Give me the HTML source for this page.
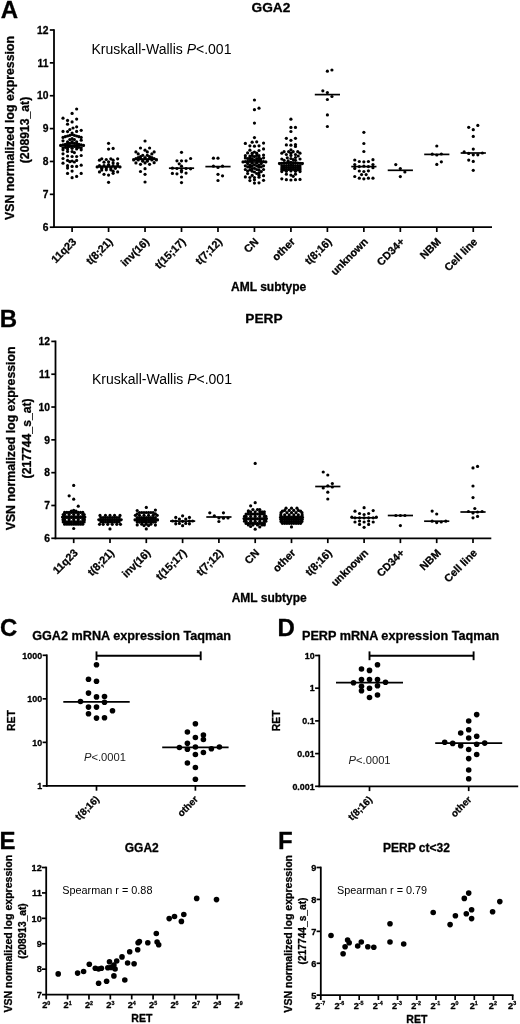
<!DOCTYPE html>
<html lang="en">
<head>
<meta charset="utf-8">
<title>Figure</title>
<style>html,body{margin:0;padding:0;background:#fff;}svg{display:block;}text{font-family:"Liberation Sans", Arial, Helvetica, sans-serif;}text[font-weight=bold]{stroke:#000;stroke-width:0.3px;stroke-linejoin:round;}</style>
</head>
<body>
<svg width="520" height="1024" viewBox="0 0 520 1024" font-family='"Liberation Sans", Arial, Helvetica, sans-serif' fill="#000">
<rect x="0" y="0" width="520" height="1024" fill="#fff"/>
<defs><filter id="soft" x="0" y="0" width="520" height="1024" filterUnits="userSpaceOnUse"><feGaussianBlur stdDeviation="0.4"/></filter></defs>
<g id="fig" filter="url(#soft)">
<g stroke="#000" fill="none" stroke-linecap="butt">
<line x1="54" y1="29.15" x2="54" y2="228.1" stroke-width="1.8"/>
<line x1="53.1" y1="227.2" x2="492" y2="227.2" stroke-width="1.8"/>
<line x1="49.8" y1="30" x2="54" y2="30" stroke-width="1.7"/>
<line x1="49.8" y1="62.87" x2="54" y2="62.87" stroke-width="1.7"/>
<line x1="49.8" y1="95.73" x2="54" y2="95.73" stroke-width="1.7"/>
<line x1="49.8" y1="128.6" x2="54" y2="128.6" stroke-width="1.7"/>
<line x1="49.8" y1="161.47" x2="54" y2="161.47" stroke-width="1.7"/>
<line x1="49.8" y1="194.33" x2="54" y2="194.33" stroke-width="1.7"/>
<line x1="49.8" y1="227.2" x2="54" y2="227.2" stroke-width="1.7"/>
<line x1="72.1" y1="227.2" x2="72.1" y2="232" stroke-width="1.7"/>
<line x1="108.57" y1="227.2" x2="108.57" y2="232" stroke-width="1.7"/>
<line x1="145.04" y1="227.2" x2="145.04" y2="232" stroke-width="1.7"/>
<line x1="181.51" y1="227.2" x2="181.51" y2="232" stroke-width="1.7"/>
<line x1="217.98" y1="227.2" x2="217.98" y2="232" stroke-width="1.7"/>
<line x1="254.45" y1="227.2" x2="254.45" y2="232" stroke-width="1.7"/>
<line x1="290.92" y1="227.2" x2="290.92" y2="232" stroke-width="1.7"/>
<line x1="327.39" y1="227.2" x2="327.39" y2="232" stroke-width="1.7"/>
<line x1="363.86" y1="227.2" x2="363.86" y2="232" stroke-width="1.7"/>
<line x1="400.33" y1="227.2" x2="400.33" y2="232" stroke-width="1.7"/>
<line x1="436.8" y1="227.2" x2="436.8" y2="232" stroke-width="1.7"/>
<line x1="473.27" y1="227.2" x2="473.27" y2="232" stroke-width="1.7"/>
<line x1="59.5" y1="145.4" x2="84.7" y2="145.4" stroke-width="1.7"/>
<line x1="95.97" y1="166.9" x2="121.17" y2="166.9" stroke-width="1.7"/>
<line x1="132.44" y1="159.2" x2="157.64" y2="159.2" stroke-width="1.7"/>
<line x1="168.91" y1="168.2" x2="194.11" y2="168.2" stroke-width="1.7"/>
<line x1="205.38" y1="166.6" x2="230.58" y2="166.6" stroke-width="1.7"/>
<line x1="241.85" y1="162" x2="267.05" y2="162" stroke-width="1.7"/>
<line x1="278.32" y1="163" x2="303.52" y2="163" stroke-width="1.7"/>
<line x1="314.79" y1="94.6" x2="339.99" y2="94.6" stroke-width="1.7"/>
<line x1="351.26" y1="166.6" x2="376.46" y2="166.6" stroke-width="1.7"/>
<line x1="387.73" y1="170.3" x2="412.93" y2="170.3" stroke-width="1.7"/>
<line x1="424.2" y1="154.4" x2="449.4" y2="154.4" stroke-width="1.7"/>
<line x1="460.67" y1="153" x2="485.87" y2="153" stroke-width="1.7"/>
</g>
<text x="48.5" y="33.7" font-size="10.3" font-weight="bold" text-anchor="end">12</text>
<text x="48.5" y="66.57" font-size="10.3" font-weight="bold" text-anchor="end">11</text>
<text x="48.5" y="99.43" font-size="10.3" font-weight="bold" text-anchor="end">10</text>
<text x="48.5" y="132.3" font-size="10.3" font-weight="bold" text-anchor="end">9</text>
<text x="48.5" y="165.17" font-size="10.3" font-weight="bold" text-anchor="end">8</text>
<text x="48.5" y="198.03" font-size="10.3" font-weight="bold" text-anchor="end">7</text>
<text x="48.5" y="230.9" font-size="10.3" font-weight="bold" text-anchor="end">6</text>
<text x="76.9" y="242.4" font-size="10.8" font-weight="bold" text-anchor="end" transform="rotate(-45 76.9 242.4)">11q23</text>
<text x="113.37" y="242.4" font-size="10.8" font-weight="bold" text-anchor="end" transform="rotate(-45 113.37 242.4)">t(8;21)</text>
<text x="149.84" y="242.4" font-size="10.8" font-weight="bold" text-anchor="end" transform="rotate(-45 149.84 242.4)">inv(16)</text>
<text x="186.31" y="242.4" font-size="10.8" font-weight="bold" text-anchor="end" transform="rotate(-45 186.31 242.4)">t(15;17)</text>
<text x="222.78" y="242.4" font-size="10.8" font-weight="bold" text-anchor="end" transform="rotate(-45 222.78 242.4)">t(7;12)</text>
<text x="259.25" y="242.4" font-size="10.8" font-weight="bold" text-anchor="end" transform="rotate(-45 259.25 242.4)">CN</text>
<text x="295.72" y="242.4" font-size="10.8" font-weight="bold" text-anchor="end" transform="rotate(-45 295.72 242.4)">other</text>
<text x="332.19" y="242.4" font-size="10.8" font-weight="bold" text-anchor="end" transform="rotate(-45 332.19 242.4)">t(8;16)</text>
<text x="368.66" y="242.4" font-size="10.8" font-weight="bold" text-anchor="end" transform="rotate(-45 368.66 242.4)">unknown</text>
<text x="405.13" y="242.4" font-size="10.8" font-weight="bold" text-anchor="end" transform="rotate(-45 405.13 242.4)">CD34+</text>
<text x="441.6" y="242.4" font-size="10.8" font-weight="bold" text-anchor="end" transform="rotate(-45 441.6 242.4)">NBM</text>
<text x="478.07" y="242.4" font-size="10.8" font-weight="bold" text-anchor="end" transform="rotate(-45 478.07 242.4)">Cell line</text>
<g><circle cx="76.65" cy="109" r="1.6"/><circle cx="72.1" cy="113.4" r="1.6"/><circle cx="63" cy="118.2" r="1.6"/><circle cx="76.65" cy="119.1" r="1.6"/><circle cx="67.55" cy="120.4" r="1.6"/><circle cx="72.1" cy="121.9" r="1.6"/><circle cx="67.55" cy="124.2" r="1.6"/><circle cx="76.65" cy="126.8" r="1.6"/><circle cx="73.01" cy="128" r="1.6"/><circle cx="69.82" cy="129.5" r="1.6"/><circle cx="81.2" cy="130.3" r="1.6"/><circle cx="63" cy="131.4" r="1.6"/><circle cx="67.55" cy="131.6" r="1.6"/><circle cx="76.65" cy="131.4" r="1.6"/><circle cx="72.1" cy="133.1" r="1.6"/><circle cx="63" cy="137.4" r="1.6"/><circle cx="65.27" cy="136.7" r="1.6"/><circle cx="67.55" cy="136" r="1.6"/><circle cx="69.82" cy="135.3" r="1.6"/><circle cx="72.1" cy="134.6" r="1.6"/><circle cx="74.38" cy="135.3" r="1.6"/><circle cx="76.65" cy="136" r="1.6"/><circle cx="78.92" cy="136.7" r="1.6"/><circle cx="81.2" cy="137.4" r="1.6"/><circle cx="69.82" cy="139.6" r="1.6"/><circle cx="72.1" cy="138.6" r="1.6"/><circle cx="74.38" cy="139.6" r="1.6"/><circle cx="63" cy="140.8" r="1.6"/><circle cx="81.2" cy="140.2" r="1.6"/><circle cx="67.55" cy="141.9" r="1.6"/><circle cx="72.1" cy="141.6" r="1.6"/><circle cx="76.65" cy="141.9" r="1.6"/><circle cx="60.72" cy="145.38" r="1.6"/><circle cx="63" cy="144.9" r="1.6"/><circle cx="65.27" cy="144.43" r="1.6"/><circle cx="67.55" cy="143.95" r="1.6"/><circle cx="69.82" cy="143.47" r="1.6"/><circle cx="72.1" cy="143" r="1.6"/><circle cx="74.38" cy="143.47" r="1.6"/><circle cx="76.65" cy="143.95" r="1.6"/><circle cx="78.92" cy="144.43" r="1.6"/><circle cx="81.2" cy="144.9" r="1.6"/><circle cx="83.47" cy="145.38" r="1.6"/><circle cx="63" cy="147.8" r="1.6"/><circle cx="65.27" cy="147.35" r="1.6"/><circle cx="67.55" cy="146.9" r="1.6"/><circle cx="69.82" cy="146.45" r="1.6"/><circle cx="72.1" cy="146" r="1.6"/><circle cx="74.38" cy="146.45" r="1.6"/><circle cx="76.65" cy="146.9" r="1.6"/><circle cx="78.92" cy="147.35" r="1.6"/><circle cx="81.2" cy="147.8" r="1.6"/><circle cx="67.55" cy="148.9" r="1.6"/><circle cx="72.1" cy="148.3" r="1.6"/><circle cx="76.65" cy="148.9" r="1.6"/><circle cx="63" cy="149.8" r="1.6"/><circle cx="81.2" cy="149.8" r="1.6"/><circle cx="67.55" cy="151.4" r="1.6"/><circle cx="72.1" cy="151.6" r="1.6"/><circle cx="74.38" cy="152.6" r="1.6"/><circle cx="63" cy="153.8" r="1.6"/><circle cx="67.55" cy="156" r="1.6"/><circle cx="72.1" cy="156.5" r="1.6"/><circle cx="76.65" cy="156.5" r="1.6"/><circle cx="81.2" cy="155.5" r="1.6"/><circle cx="63" cy="158.5" r="1.6"/><circle cx="67.55" cy="160.4" r="1.6"/><circle cx="76.65" cy="160.4" r="1.6"/><circle cx="69.82" cy="161.7" r="1.6"/><circle cx="74.38" cy="162" r="1.6"/><circle cx="72.1" cy="161" r="1.6"/><circle cx="63" cy="163.2" r="1.6"/><circle cx="67.55" cy="165.7" r="1.6"/><circle cx="72.1" cy="166.4" r="1.6"/><circle cx="76.65" cy="166.4" r="1.6"/><circle cx="81.2" cy="165.2" r="1.6"/><circle cx="67.55" cy="168.1" r="1.6"/><circle cx="72.1" cy="171.1" r="1.6"/><circle cx="67.55" cy="173.4" r="1.6"/><circle cx="81.2" cy="173.4" r="1.6"/><circle cx="76.65" cy="176.4" r="1.6"/><circle cx="72.1" cy="177.7" r="1.6"/><circle cx="108.57" cy="143.3" r="1.6"/><circle cx="108.57" cy="149.1" r="1.6"/><circle cx="113.12" cy="148.4" r="1.6"/><circle cx="99.47" cy="160.2" r="1.6"/><circle cx="101.74" cy="158.8" r="1.6"/><circle cx="106.29" cy="159.5" r="1.6"/><circle cx="110.84" cy="158.8" r="1.6"/><circle cx="113.12" cy="160.2" r="1.6"/><circle cx="117.67" cy="158.8" r="1.6"/><circle cx="104.02" cy="162.2" r="1.6"/><circle cx="108.57" cy="161.8" r="1.6"/><circle cx="113.12" cy="162.9" r="1.6"/><circle cx="117.67" cy="163.6" r="1.6"/><circle cx="97.19" cy="166.9" r="1.6"/><circle cx="99.47" cy="165.7" r="1.6"/><circle cx="101.74" cy="166.9" r="1.6"/><circle cx="104.02" cy="165.7" r="1.6"/><circle cx="106.29" cy="166.9" r="1.6"/><circle cx="108.57" cy="165.7" r="1.6"/><circle cx="110.84" cy="166.9" r="1.6"/><circle cx="113.12" cy="165.7" r="1.6"/><circle cx="115.39" cy="166.9" r="1.6"/><circle cx="117.67" cy="165.7" r="1.6"/><circle cx="119.94" cy="166.9" r="1.6"/><circle cx="101.74" cy="168.3" r="1.6"/><circle cx="106.29" cy="168" r="1.6"/><circle cx="110.84" cy="168" r="1.6"/><circle cx="115.39" cy="168.3" r="1.6"/><circle cx="108.57" cy="164.6" r="1.6"/><circle cx="99.47" cy="171.9" r="1.6"/><circle cx="101.74" cy="170.1" r="1.6"/><circle cx="106.29" cy="169.8" r="1.6"/><circle cx="110.84" cy="169.8" r="1.6"/><circle cx="113.12" cy="171.2" r="1.6"/><circle cx="117.67" cy="171.9" r="1.6"/><circle cx="104.02" cy="174.3" r="1.6"/><circle cx="108.57" cy="175.1" r="1.6"/><circle cx="113.12" cy="173.3" r="1.6"/><circle cx="108.57" cy="182.3" r="1.6"/><circle cx="145.04" cy="141" r="1.6"/><circle cx="140.49" cy="148" r="1.6"/><circle cx="149.59" cy="148" r="1.6"/><circle cx="145.04" cy="150.2" r="1.6"/><circle cx="135.94" cy="151.9" r="1.6"/><circle cx="154.14" cy="151.9" r="1.6"/><circle cx="138.22" cy="153.9" r="1.6"/><circle cx="147.31" cy="151.9" r="1.6"/><circle cx="151.86" cy="153.9" r="1.6"/><circle cx="142.76" cy="155.3" r="1.6"/><circle cx="147.31" cy="155.3" r="1.6"/><circle cx="140.49" cy="156.7" r="1.6"/><circle cx="149.59" cy="156.7" r="1.6"/><circle cx="133.66" cy="159.9" r="1.6"/><circle cx="135.94" cy="158.7" r="1.6"/><circle cx="138.22" cy="159.9" r="1.6"/><circle cx="140.49" cy="158.7" r="1.6"/><circle cx="142.76" cy="159.9" r="1.6"/><circle cx="145.04" cy="158.7" r="1.6"/><circle cx="147.31" cy="159.9" r="1.6"/><circle cx="149.59" cy="158.7" r="1.6"/><circle cx="151.86" cy="159.9" r="1.6"/><circle cx="154.14" cy="158.7" r="1.6"/><circle cx="156.41" cy="159.9" r="1.6"/><circle cx="138.22" cy="157.6" r="1.6"/><circle cx="151.86" cy="157.6" r="1.6"/><circle cx="142.76" cy="161.2" r="1.6"/><circle cx="147.31" cy="161.2" r="1.6"/><circle cx="145.04" cy="157.6" r="1.6"/><circle cx="135.94" cy="162.9" r="1.6"/><circle cx="140.49" cy="164.3" r="1.6"/><circle cx="145.04" cy="162.9" r="1.6"/><circle cx="149.59" cy="164.3" r="1.6"/><circle cx="154.14" cy="162.7" r="1.6"/><circle cx="145.04" cy="168.7" r="1.6"/><circle cx="140.49" cy="171.5" r="1.6"/><circle cx="145.04" cy="174.3" r="1.6"/><circle cx="145.04" cy="182" r="1.6"/><circle cx="181.51" cy="152.3" r="1.6"/><circle cx="190.61" cy="158.5" r="1.6"/><circle cx="176.96" cy="160.8" r="1.6"/><circle cx="181.51" cy="160.8" r="1.6"/><circle cx="186.06" cy="160.8" r="1.6"/><circle cx="179.23" cy="163.8" r="1.6"/><circle cx="181.51" cy="166.2" r="1.6"/><circle cx="172.41" cy="168.2" r="1.6"/><circle cx="176.96" cy="168.5" r="1.6"/><circle cx="186.06" cy="168.5" r="1.6"/><circle cx="190.61" cy="168.8" r="1.6"/><circle cx="181.51" cy="170.3" r="1.6"/><circle cx="172.41" cy="173.4" r="1.6"/><circle cx="176.96" cy="173.8" r="1.6"/><circle cx="181.51" cy="171.8" r="1.6"/><circle cx="186.06" cy="173.1" r="1.6"/><circle cx="181.51" cy="177" r="1.6"/><circle cx="181.51" cy="182.6" r="1.6"/><circle cx="213.43" cy="158.2" r="1.6"/><circle cx="217.98" cy="158.2" r="1.6"/><circle cx="213.43" cy="166.2" r="1.6"/><circle cx="217.98" cy="167.4" r="1.6"/><circle cx="222.53" cy="166.2" r="1.6"/><circle cx="217.98" cy="174.3" r="1.6"/><circle cx="222.53" cy="175.8" r="1.6"/><circle cx="217.98" cy="180.5" r="1.6"/><circle cx="254.45" cy="100" r="1.6"/><circle cx="254.45" cy="109.7" r="1.6"/><circle cx="259" cy="108.2" r="1.6"/><circle cx="254.45" cy="123.1" r="1.6"/><circle cx="254.45" cy="137.6" r="1.6"/><circle cx="245.35" cy="143.4" r="1.6"/><circle cx="252.17" cy="142.2" r="1.6"/><circle cx="256.72" cy="141.8" r="1.6"/><circle cx="263.55" cy="143.1" r="1.6"/><circle cx="249.9" cy="145.8" r="1.6"/><circle cx="254.45" cy="146.2" r="1.6"/><circle cx="259" cy="145.8" r="1.6"/><circle cx="249.9" cy="150.2" r="1.6"/><circle cx="259" cy="150.5" r="1.6"/><circle cx="263.55" cy="148.9" r="1.6"/><circle cx="247.62" cy="152.9" r="1.6"/><circle cx="254.45" cy="152" r="1.6"/><circle cx="252.17" cy="153.2" r="1.6"/><circle cx="256.72" cy="153.2" r="1.6"/><circle cx="249.9" cy="156" r="1.6"/><circle cx="259" cy="155.7" r="1.6"/><circle cx="245.35" cy="155.7" r="1.6"/><circle cx="263.55" cy="155.1" r="1.6"/><circle cx="254.45" cy="156.6" r="1.6"/><circle cx="252.17" cy="158.5" r="1.6"/><circle cx="256.72" cy="158.5" r="1.6"/><circle cx="247.62" cy="158.5" r="1.6"/><circle cx="260.82" cy="159.1" r="1.6"/><circle cx="243.07" cy="161.95" r="1.6"/><circle cx="245.35" cy="161.6" r="1.6"/><circle cx="247.62" cy="161.25" r="1.6"/><circle cx="249.9" cy="160.9" r="1.6"/><circle cx="252.17" cy="160.55" r="1.6"/><circle cx="254.45" cy="160.2" r="1.6"/><circle cx="256.72" cy="160.55" r="1.6"/><circle cx="259" cy="160.9" r="1.6"/><circle cx="261.27" cy="161.25" r="1.6"/><circle cx="263.55" cy="161.6" r="1.6"/><circle cx="265.82" cy="161.95" r="1.6"/><circle cx="249.9" cy="159.3" r="1.6"/><circle cx="259" cy="159.5" r="1.6"/><circle cx="247.62" cy="163.6" r="1.6"/><circle cx="252.17" cy="163.2" r="1.6"/><circle cx="256.72" cy="163.2" r="1.6"/><circle cx="261.27" cy="163.6" r="1.6"/><circle cx="254.45" cy="164.8" r="1.6"/><circle cx="252.17" cy="166" r="1.6"/><circle cx="256.72" cy="166" r="1.6"/><circle cx="249.9" cy="167.2" r="1.6"/><circle cx="259" cy="167.2" r="1.6"/><circle cx="245.35" cy="165.8" r="1.6"/><circle cx="263.55" cy="165.8" r="1.6"/><circle cx="245.35" cy="169.5" r="1.6"/><circle cx="249.9" cy="169.8" r="1.6"/><circle cx="263.55" cy="169.5" r="1.6"/><circle cx="254.45" cy="168.3" r="1.6"/><circle cx="256.72" cy="169.5" r="1.6"/><circle cx="259" cy="170.2" r="1.6"/><circle cx="254.45" cy="172" r="1.6"/><circle cx="256.72" cy="173.5" r="1.6"/><circle cx="247.62" cy="173.5" r="1.6"/><circle cx="245.35" cy="176.9" r="1.6"/><circle cx="263.55" cy="175.7" r="1.6"/><circle cx="252.17" cy="175.4" r="1.6"/><circle cx="249.9" cy="177.5" r="1.6"/><circle cx="254.45" cy="177.5" r="1.6"/><circle cx="249.9" cy="180.6" r="1.6"/><circle cx="259" cy="177.2" r="1.6"/><circle cx="263.55" cy="180.3" r="1.6"/><circle cx="254.45" cy="183.1" r="1.6"/><circle cx="259" cy="182.8" r="1.6"/><circle cx="252.17" cy="155.4" r="1.6"/><circle cx="256.72" cy="155.4" r="1.6"/><circle cx="249.9" cy="157.6" r="1.6"/><circle cx="259" cy="157.6" r="1.6"/><circle cx="245.35" cy="158" r="1.6"/><circle cx="263.55" cy="157.8" r="1.6"/><circle cx="249.9" cy="165.2" r="1.6"/><circle cx="259" cy="165.2" r="1.6"/><circle cx="247.62" cy="166.8" r="1.6"/><circle cx="261.27" cy="166.8" r="1.6"/><circle cx="252.17" cy="168.6" r="1.6"/><circle cx="247.62" cy="171" r="1.6"/><circle cx="261.27" cy="171.6" r="1.6"/><circle cx="259" cy="173" r="1.6"/><circle cx="252.17" cy="171.2" r="1.6"/><circle cx="259" cy="175.2" r="1.6"/><circle cx="254.45" cy="179.8" r="1.6"/><circle cx="290.92" cy="119.2" r="1.6"/><circle cx="290.92" cy="127.4" r="1.6"/><circle cx="295.47" cy="127.4" r="1.6"/><circle cx="290.92" cy="131.5" r="1.6"/><circle cx="286.37" cy="138.3" r="1.6"/><circle cx="295.47" cy="138.3" r="1.6"/><circle cx="290.92" cy="140.3" r="1.6"/><circle cx="286.37" cy="144.9" r="1.6"/><circle cx="290.92" cy="145.2" r="1.6"/><circle cx="295.47" cy="144.6" r="1.6"/><circle cx="295.47" cy="146.4" r="1.6"/><circle cx="290.92" cy="149.8" r="1.6"/><circle cx="288.64" cy="151.7" r="1.6"/><circle cx="293.19" cy="151.7" r="1.6"/><circle cx="284.09" cy="151.7" r="1.6"/><circle cx="281.82" cy="153.2" r="1.6"/><circle cx="297.74" cy="151.7" r="1.6"/><circle cx="300.02" cy="153.2" r="1.6"/><circle cx="286.37" cy="154.5" r="1.6"/><circle cx="295.47" cy="154.5" r="1.6"/><circle cx="290.92" cy="153.2" r="1.6"/><circle cx="290.92" cy="155.4" r="1.6"/><circle cx="287.28" cy="157.8" r="1.6"/><circle cx="284.09" cy="160.3" r="1.6"/><circle cx="281.82" cy="159" r="1.6"/><circle cx="295.47" cy="157.5" r="1.6"/><circle cx="298.2" cy="156" r="1.6"/><circle cx="300.02" cy="159" r="1.6"/><circle cx="290.92" cy="158.5" r="1.6"/><circle cx="288.19" cy="160.9" r="1.6"/><circle cx="295.47" cy="160.3" r="1.6"/><circle cx="293.19" cy="159.6" r="1.6"/><circle cx="279.54" cy="163.55" r="1.6"/><circle cx="281.82" cy="163.3" r="1.6"/><circle cx="284.09" cy="163.05" r="1.6"/><circle cx="286.37" cy="162.8" r="1.6"/><circle cx="288.64" cy="162.55" r="1.6"/><circle cx="290.92" cy="162.3" r="1.6"/><circle cx="293.19" cy="162.55" r="1.6"/><circle cx="295.47" cy="162.8" r="1.6"/><circle cx="297.74" cy="163.05" r="1.6"/><circle cx="300.02" cy="163.3" r="1.6"/><circle cx="302.29" cy="163.55" r="1.6"/><circle cx="281.82" cy="165.8" r="1.6"/><circle cx="284.09" cy="165.65" r="1.6"/><circle cx="286.37" cy="165.5" r="1.6"/><circle cx="288.64" cy="165.35" r="1.6"/><circle cx="290.92" cy="165.2" r="1.6"/><circle cx="293.19" cy="165.35" r="1.6"/><circle cx="295.47" cy="165.5" r="1.6"/><circle cx="297.74" cy="165.65" r="1.6"/><circle cx="300.02" cy="165.8" r="1.6"/><circle cx="281.82" cy="167.9" r="1.6"/><circle cx="284.09" cy="167.75" r="1.6"/><circle cx="286.37" cy="167.6" r="1.6"/><circle cx="288.64" cy="167.45" r="1.6"/><circle cx="290.92" cy="167.3" r="1.6"/><circle cx="293.19" cy="167.45" r="1.6"/><circle cx="295.47" cy="167.6" r="1.6"/><circle cx="297.74" cy="167.75" r="1.6"/><circle cx="300.02" cy="167.9" r="1.6"/><circle cx="281.82" cy="169.8" r="1.6"/><circle cx="284.09" cy="169.68" r="1.6"/><circle cx="286.37" cy="169.55" r="1.6"/><circle cx="288.64" cy="169.43" r="1.6"/><circle cx="290.92" cy="169.3" r="1.6"/><circle cx="293.19" cy="169.43" r="1.6"/><circle cx="295.47" cy="169.55" r="1.6"/><circle cx="297.74" cy="169.68" r="1.6"/><circle cx="300.02" cy="169.8" r="1.6"/><circle cx="281.82" cy="171.6" r="1.6"/><circle cx="286.37" cy="171.3" r="1.6"/><circle cx="290.92" cy="171" r="1.6"/><circle cx="295.47" cy="171.3" r="1.6"/><circle cx="300.02" cy="171.6" r="1.6"/><circle cx="286.37" cy="174.2" r="1.6"/><circle cx="290.92" cy="175.1" r="1.6"/><circle cx="293.19" cy="176.3" r="1.6"/><circle cx="295.47" cy="174.2" r="1.6"/><circle cx="281.82" cy="178.8" r="1.6"/><circle cx="286.37" cy="179.7" r="1.6"/><circle cx="290.92" cy="180" r="1.6"/><circle cx="295.47" cy="179.7" r="1.6"/><circle cx="300.02" cy="179.4" r="1.6"/><circle cx="327.39" cy="71.2" r="1.6"/><circle cx="331.94" cy="70" r="1.6"/><circle cx="322.84" cy="90.8" r="1.6"/><circle cx="327.39" cy="92.6" r="1.6"/><circle cx="331.94" cy="96.5" r="1.6"/><circle cx="327.39" cy="99.5" r="1.6"/><circle cx="327.39" cy="114.9" r="1.6"/><circle cx="327.39" cy="126.5" r="1.6"/><circle cx="363.86" cy="132.3" r="1.6"/><circle cx="363.86" cy="143.5" r="1.6"/><circle cx="363.86" cy="151.5" r="1.6"/><circle cx="354.76" cy="160" r="1.6"/><circle cx="359.31" cy="161.5" r="1.6"/><circle cx="363.86" cy="161.8" r="1.6"/><circle cx="368.41" cy="161.5" r="1.6"/><circle cx="372.96" cy="159.7" r="1.6"/><circle cx="354.76" cy="164.6" r="1.6"/><circle cx="372.96" cy="164.6" r="1.6"/><circle cx="354.76" cy="168.4" r="1.6"/><circle cx="359.31" cy="166.6" r="1.6"/><circle cx="363.86" cy="166.2" r="1.6"/><circle cx="368.41" cy="166.6" r="1.6"/><circle cx="372.96" cy="167.7" r="1.6"/><circle cx="359.31" cy="171" r="1.6"/><circle cx="363.86" cy="171.5" r="1.6"/><circle cx="368.41" cy="170.8" r="1.6"/><circle cx="361.59" cy="174.6" r="1.6"/><circle cx="366.13" cy="174.6" r="1.6"/><circle cx="354.76" cy="176.5" r="1.6"/><circle cx="359.31" cy="178.2" r="1.6"/><circle cx="363.86" cy="178.8" r="1.6"/><circle cx="368.41" cy="178.2" r="1.6"/><circle cx="372.96" cy="178.2" r="1.6"/><circle cx="395.78" cy="164.6" r="1.6"/><circle cx="400.33" cy="168.6" r="1.6"/><circle cx="404.88" cy="172" r="1.6"/><circle cx="400.33" cy="176.6" r="1.6"/><circle cx="436.8" cy="146" r="1.6"/><circle cx="436.8" cy="155" r="1.6"/><circle cx="441.35" cy="154" r="1.6"/><circle cx="432.25" cy="154.2" r="1.6"/><circle cx="436.8" cy="164.4" r="1.6"/><circle cx="441.35" cy="161.8" r="1.6"/><circle cx="468.72" cy="127.3" r="1.6"/><circle cx="477.82" cy="125.4" r="1.6"/><circle cx="473.27" cy="129.7" r="1.6"/><circle cx="473.27" cy="136.4" r="1.6"/><circle cx="473.27" cy="149.1" r="1.6"/><circle cx="464.17" cy="151.9" r="1.6"/><circle cx="468.72" cy="153.4" r="1.6"/><circle cx="473.27" cy="154.8" r="1.6"/><circle cx="477.82" cy="154.8" r="1.6"/><circle cx="482.37" cy="153" r="1.6"/><circle cx="468.72" cy="160.1" r="1.6"/><circle cx="473.27" cy="161.4" r="1.6"/><circle cx="473.27" cy="170.3" r="1.6"/></g>
<text x="270.9" y="12" font-size="13.7" font-weight="bold" text-anchor="middle">GGA2</text>
<text x="0.7" y="18.1" font-size="24" font-weight="bold">A</text>
<text x="14.3" y="128" font-size="12.3" font-weight="bold" text-anchor="middle" transform="rotate(-90 14.3 128)">VSN normalized log expression</text>
<text x="29.3" y="130" font-size="12.2" font-weight="bold" text-anchor="middle" transform="rotate(-90 29.3 130)">(208913_at)</text>
<text x="91.5" y="54.1" font-size="14">Kruskall-Wallis <tspan font-style="italic">P</tspan>&lt;.001</text>
<text x="268.6" y="291.2" font-size="12" font-weight="bold" text-anchor="middle">AML subtype</text>
<g stroke="#000" fill="none" stroke-linecap="butt">
<line x1="55.5" y1="340.55" x2="55.5" y2="539.2" stroke-width="1.8"/>
<line x1="54.6" y1="538.3" x2="491.3" y2="538.3" stroke-width="1.8"/>
<line x1="51.3" y1="341.4" x2="55.5" y2="341.4" stroke-width="1.7"/>
<line x1="51.3" y1="374.22" x2="55.5" y2="374.22" stroke-width="1.7"/>
<line x1="51.3" y1="407.03" x2="55.5" y2="407.03" stroke-width="1.7"/>
<line x1="51.3" y1="439.85" x2="55.5" y2="439.85" stroke-width="1.7"/>
<line x1="51.3" y1="472.67" x2="55.5" y2="472.67" stroke-width="1.7"/>
<line x1="51.3" y1="505.48" x2="55.5" y2="505.48" stroke-width="1.7"/>
<line x1="51.3" y1="538.3" x2="55.5" y2="538.3" stroke-width="1.7"/>
<line x1="73.7" y1="538.3" x2="73.7" y2="543.1" stroke-width="1.7"/>
<line x1="110" y1="538.3" x2="110" y2="543.1" stroke-width="1.7"/>
<line x1="146.3" y1="538.3" x2="146.3" y2="543.1" stroke-width="1.7"/>
<line x1="182.6" y1="538.3" x2="182.6" y2="543.1" stroke-width="1.7"/>
<line x1="218.9" y1="538.3" x2="218.9" y2="543.1" stroke-width="1.7"/>
<line x1="255.2" y1="538.3" x2="255.2" y2="543.1" stroke-width="1.7"/>
<line x1="291.5" y1="538.3" x2="291.5" y2="543.1" stroke-width="1.7"/>
<line x1="327.8" y1="538.3" x2="327.8" y2="543.1" stroke-width="1.7"/>
<line x1="364.1" y1="538.3" x2="364.1" y2="543.1" stroke-width="1.7"/>
<line x1="400.4" y1="538.3" x2="400.4" y2="543.1" stroke-width="1.7"/>
<line x1="436.7" y1="538.3" x2="436.7" y2="543.1" stroke-width="1.7"/>
<line x1="473" y1="538.3" x2="473" y2="543.1" stroke-width="1.7"/>
<line x1="61.1" y1="517.1" x2="86.3" y2="517.1" stroke-width="1.7"/>
<line x1="97.4" y1="519.6" x2="122.6" y2="519.6" stroke-width="1.7"/>
<line x1="133.7" y1="519.6" x2="158.9" y2="519.6" stroke-width="1.7"/>
<line x1="170" y1="521.1" x2="195.2" y2="521.1" stroke-width="1.7"/>
<line x1="206.3" y1="517" x2="231.5" y2="517" stroke-width="1.7"/>
<line x1="242.6" y1="518.5" x2="267.8" y2="518.5" stroke-width="1.7"/>
<line x1="278.9" y1="517.5" x2="304.1" y2="517.5" stroke-width="1.7"/>
<line x1="315.2" y1="486.5" x2="340.4" y2="486.5" stroke-width="1.7"/>
<line x1="351.5" y1="517.8" x2="376.7" y2="517.8" stroke-width="1.7"/>
<line x1="387.8" y1="515.5" x2="413" y2="515.5" stroke-width="1.7"/>
<line x1="424.1" y1="521.2" x2="449.3" y2="521.2" stroke-width="1.7"/>
<line x1="460.4" y1="512" x2="485.6" y2="512" stroke-width="1.7"/>
</g>
<text x="50" y="345.1" font-size="10.3" font-weight="bold" text-anchor="end">12</text>
<text x="50" y="377.92" font-size="10.3" font-weight="bold" text-anchor="end">11</text>
<text x="50" y="410.73" font-size="10.3" font-weight="bold" text-anchor="end">10</text>
<text x="50" y="443.55" font-size="10.3" font-weight="bold" text-anchor="end">9</text>
<text x="50" y="476.37" font-size="10.3" font-weight="bold" text-anchor="end">8</text>
<text x="50" y="509.18" font-size="10.3" font-weight="bold" text-anchor="end">7</text>
<text x="50" y="542" font-size="10.3" font-weight="bold" text-anchor="end">6</text>
<text x="78.5" y="553.6" font-size="10.8" font-weight="bold" text-anchor="end" transform="rotate(-45 78.5 553.6)">11q23</text>
<text x="114.8" y="553.6" font-size="10.8" font-weight="bold" text-anchor="end" transform="rotate(-45 114.8 553.6)">t(8;21)</text>
<text x="151.1" y="553.6" font-size="10.8" font-weight="bold" text-anchor="end" transform="rotate(-45 151.1 553.6)">inv(16)</text>
<text x="187.4" y="553.6" font-size="10.8" font-weight="bold" text-anchor="end" transform="rotate(-45 187.4 553.6)">t(15;17)</text>
<text x="223.7" y="553.6" font-size="10.8" font-weight="bold" text-anchor="end" transform="rotate(-45 223.7 553.6)">t(7;12)</text>
<text x="260" y="553.6" font-size="10.8" font-weight="bold" text-anchor="end" transform="rotate(-45 260 553.6)">CN</text>
<text x="296.3" y="553.6" font-size="10.8" font-weight="bold" text-anchor="end" transform="rotate(-45 296.3 553.6)">other</text>
<text x="332.6" y="553.6" font-size="10.8" font-weight="bold" text-anchor="end" transform="rotate(-45 332.6 553.6)">t(8;16)</text>
<text x="368.9" y="553.6" font-size="10.8" font-weight="bold" text-anchor="end" transform="rotate(-45 368.9 553.6)">unknown</text>
<text x="405.2" y="553.6" font-size="10.8" font-weight="bold" text-anchor="end" transform="rotate(-45 405.2 553.6)">CD34+</text>
<text x="441.5" y="553.6" font-size="10.8" font-weight="bold" text-anchor="end" transform="rotate(-45 441.5 553.6)">NBM</text>
<text x="477.8" y="553.6" font-size="10.8" font-weight="bold" text-anchor="end" transform="rotate(-45 477.8 553.6)">Cell line</text>
<g><circle cx="73.7" cy="485.4" r="1.6"/><circle cx="69.15" cy="495.8" r="1.6"/><circle cx="73.7" cy="499.2" r="1.6"/><circle cx="78.25" cy="506.2" r="1.6"/><circle cx="73.7" cy="528.5" r="1.6"/><circle cx="73.7" cy="510.3" r="1.6"/><circle cx="71.42" cy="511" r="1.6"/><circle cx="75.98" cy="511" r="1.6"/><circle cx="64.6" cy="512.4" r="1.6"/><circle cx="66.88" cy="512.4" r="1.6"/><circle cx="69.15" cy="512.4" r="1.6"/><circle cx="71.42" cy="512.4" r="1.6"/><circle cx="73.7" cy="512.4" r="1.6"/><circle cx="75.98" cy="512.4" r="1.6"/><circle cx="78.25" cy="512.4" r="1.6"/><circle cx="80.53" cy="512.4" r="1.6"/><circle cx="82.8" cy="512.4" r="1.6"/><circle cx="63.24" cy="514.6" r="1.6"/><circle cx="64.6" cy="514.6" r="1.6"/><circle cx="69.15" cy="514.6" r="1.6"/><circle cx="73.7" cy="514.6" r="1.6"/><circle cx="78.25" cy="514.6" r="1.6"/><circle cx="82.8" cy="514.6" r="1.6"/><circle cx="84.17" cy="514.6" r="1.6"/><circle cx="64.6" cy="516.8" r="1.6"/><circle cx="66.88" cy="516.8" r="1.6"/><circle cx="69.15" cy="516.8" r="1.6"/><circle cx="71.42" cy="516.8" r="1.6"/><circle cx="73.7" cy="516.8" r="1.6"/><circle cx="75.98" cy="516.8" r="1.6"/><circle cx="78.25" cy="516.8" r="1.6"/><circle cx="80.53" cy="516.8" r="1.6"/><circle cx="82.8" cy="516.8" r="1.6"/><circle cx="63.01" cy="516.8" r="1.6"/><circle cx="84.39" cy="516.8" r="1.6"/><circle cx="64.6" cy="517.5" r="1.6"/><circle cx="66.88" cy="517.5" r="1.6"/><circle cx="69.15" cy="517.5" r="1.6"/><circle cx="71.42" cy="517.5" r="1.6"/><circle cx="73.7" cy="517.5" r="1.6"/><circle cx="75.98" cy="517.5" r="1.6"/><circle cx="78.25" cy="517.5" r="1.6"/><circle cx="80.53" cy="517.5" r="1.6"/><circle cx="82.8" cy="517.5" r="1.6"/><circle cx="63.01" cy="517.5" r="1.6"/><circle cx="84.39" cy="517.5" r="1.6"/><circle cx="63.01" cy="519.7" r="1.6"/><circle cx="64.6" cy="519.7" r="1.6"/><circle cx="69.15" cy="519.7" r="1.6"/><circle cx="73.7" cy="519.7" r="1.6"/><circle cx="78.25" cy="519.7" r="1.6"/><circle cx="82.8" cy="519.7" r="1.6"/><circle cx="84.39" cy="519.7" r="1.6"/><circle cx="64.6" cy="521.9" r="1.6"/><circle cx="66.88" cy="521.9" r="1.6"/><circle cx="69.15" cy="521.9" r="1.6"/><circle cx="71.42" cy="521.9" r="1.6"/><circle cx="73.7" cy="521.9" r="1.6"/><circle cx="75.98" cy="521.9" r="1.6"/><circle cx="78.25" cy="521.9" r="1.6"/><circle cx="80.53" cy="521.9" r="1.6"/><circle cx="82.8" cy="521.9" r="1.6"/><circle cx="63.24" cy="521.9" r="1.6"/><circle cx="84.17" cy="521.9" r="1.6"/><circle cx="64.6" cy="524.2" r="1.6"/><circle cx="66.88" cy="524.2" r="1.6"/><circle cx="69.15" cy="524.2" r="1.6"/><circle cx="71.42" cy="524.2" r="1.6"/><circle cx="73.7" cy="524.2" r="1.6"/><circle cx="75.98" cy="524.2" r="1.6"/><circle cx="78.25" cy="524.2" r="1.6"/><circle cx="80.53" cy="524.2" r="1.6"/><circle cx="82.8" cy="524.2" r="1.6"/><circle cx="110" cy="528.9" r="1.6"/><circle cx="99.99" cy="515.4" r="1.6"/><circle cx="105.45" cy="515.4" r="1.6"/><circle cx="110" cy="515.4" r="1.6"/><circle cx="114.55" cy="515.4" r="1.6"/><circle cx="120.01" cy="515.4" r="1.6"/><circle cx="100.9" cy="517.5" r="1.6"/><circle cx="103.17" cy="517.5" r="1.6"/><circle cx="105.45" cy="517.5" r="1.6"/><circle cx="107.72" cy="517.5" r="1.6"/><circle cx="110" cy="517.5" r="1.6"/><circle cx="112.28" cy="517.5" r="1.6"/><circle cx="114.55" cy="517.5" r="1.6"/><circle cx="116.83" cy="517.5" r="1.6"/><circle cx="119.1" cy="517.5" r="1.6"/><circle cx="100.9" cy="519.8" r="1.6"/><circle cx="103.17" cy="519.8" r="1.6"/><circle cx="105.45" cy="519.8" r="1.6"/><circle cx="107.72" cy="519.8" r="1.6"/><circle cx="110" cy="519.8" r="1.6"/><circle cx="112.28" cy="519.8" r="1.6"/><circle cx="114.55" cy="519.8" r="1.6"/><circle cx="116.83" cy="519.8" r="1.6"/><circle cx="119.1" cy="519.8" r="1.6"/><circle cx="99.08" cy="519.8" r="1.6"/><circle cx="120.92" cy="519.8" r="1.6"/><circle cx="100.9" cy="522" r="1.6"/><circle cx="103.17" cy="522" r="1.6"/><circle cx="105.45" cy="522" r="1.6"/><circle cx="107.72" cy="522" r="1.6"/><circle cx="110" cy="522" r="1.6"/><circle cx="112.28" cy="522" r="1.6"/><circle cx="114.55" cy="522" r="1.6"/><circle cx="116.83" cy="522" r="1.6"/><circle cx="119.1" cy="522" r="1.6"/><circle cx="99.53" cy="524.3" r="1.6"/><circle cx="103.17" cy="524.3" r="1.6"/><circle cx="107.72" cy="524.3" r="1.6"/><circle cx="112.28" cy="524.3" r="1.6"/><circle cx="116.83" cy="524.3" r="1.6"/><circle cx="120.47" cy="524.3" r="1.6"/><circle cx="146.3" cy="507.4" r="1.6"/><circle cx="137.2" cy="510.5" r="1.6"/><circle cx="155.4" cy="510.1" r="1.6"/><circle cx="146.3" cy="528.9" r="1.6"/><circle cx="137.2" cy="524.9" r="1.6"/><circle cx="155.4" cy="525.1" r="1.6"/><circle cx="139.48" cy="512.5" r="1.6"/><circle cx="141.75" cy="512.5" r="1.6"/><circle cx="144.03" cy="512.5" r="1.6"/><circle cx="146.3" cy="512.5" r="1.6"/><circle cx="148.58" cy="512.5" r="1.6"/><circle cx="150.85" cy="512.5" r="1.6"/><circle cx="153.12" cy="512.5" r="1.6"/><circle cx="137.2" cy="513.9" r="1.6"/><circle cx="155.4" cy="513.9" r="1.6"/><circle cx="135.38" cy="515.3" r="1.6"/><circle cx="157.22" cy="515.3" r="1.6"/><circle cx="144.03" cy="515.3" r="1.6"/><circle cx="148.58" cy="515.3" r="1.6"/><circle cx="139.48" cy="515.3" r="1.6"/><circle cx="153.12" cy="515.3" r="1.6"/><circle cx="137.2" cy="517.7" r="1.6"/><circle cx="139.48" cy="517.7" r="1.6"/><circle cx="141.75" cy="517.7" r="1.6"/><circle cx="144.03" cy="517.7" r="1.6"/><circle cx="146.3" cy="517.7" r="1.6"/><circle cx="148.58" cy="517.7" r="1.6"/><circle cx="150.85" cy="517.7" r="1.6"/><circle cx="153.12" cy="517.7" r="1.6"/><circle cx="155.4" cy="517.7" r="1.6"/><circle cx="137.2" cy="519.9" r="1.6"/><circle cx="139.48" cy="519.9" r="1.6"/><circle cx="141.75" cy="519.9" r="1.6"/><circle cx="144.03" cy="519.9" r="1.6"/><circle cx="146.3" cy="519.9" r="1.6"/><circle cx="148.58" cy="519.9" r="1.6"/><circle cx="150.85" cy="519.9" r="1.6"/><circle cx="153.12" cy="519.9" r="1.6"/><circle cx="155.4" cy="519.9" r="1.6"/><circle cx="135.15" cy="519.9" r="1.6"/><circle cx="157.45" cy="519.9" r="1.6"/><circle cx="137.2" cy="522.1" r="1.6"/><circle cx="139.48" cy="522.1" r="1.6"/><circle cx="141.75" cy="522.1" r="1.6"/><circle cx="144.03" cy="522.1" r="1.6"/><circle cx="146.3" cy="522.1" r="1.6"/><circle cx="148.58" cy="522.1" r="1.6"/><circle cx="150.85" cy="522.1" r="1.6"/><circle cx="153.12" cy="522.1" r="1.6"/><circle cx="155.4" cy="522.1" r="1.6"/><circle cx="141.75" cy="524.2" r="1.6"/><circle cx="146.3" cy="524.2" r="1.6"/><circle cx="150.85" cy="524.2" r="1.6"/><circle cx="144.03" cy="525.6" r="1.6"/><circle cx="148.58" cy="525.6" r="1.6"/><circle cx="182.6" cy="515.8" r="1.6"/><circle cx="175.78" cy="517.4" r="1.6"/><circle cx="189.42" cy="517.4" r="1.6"/><circle cx="179.41" cy="519" r="1.6"/><circle cx="185.78" cy="519" r="1.6"/><circle cx="172.59" cy="521" r="1.6"/><circle cx="175.78" cy="521.2" r="1.6"/><circle cx="182.6" cy="521.3" r="1.6"/><circle cx="189.42" cy="521.2" r="1.6"/><circle cx="192.61" cy="521" r="1.6"/><circle cx="175.78" cy="523.8" r="1.6"/><circle cx="189.42" cy="523.8" r="1.6"/><circle cx="182.6" cy="525.7" r="1.6"/><circle cx="179.41" cy="523.4" r="1.6"/><circle cx="185.78" cy="523.4" r="1.6"/><circle cx="209.8" cy="512.8" r="1.6"/><circle cx="223.45" cy="512.8" r="1.6"/><circle cx="214.35" cy="515.8" r="1.6"/><circle cx="218.9" cy="518" r="1.6"/><circle cx="223.45" cy="518.2" r="1.6"/><circle cx="228" cy="518" r="1.6"/><circle cx="218.9" cy="521.5" r="1.6"/><circle cx="255.2" cy="463.4" r="1.6"/><circle cx="255.2" cy="502.7" r="1.6"/><circle cx="250.65" cy="505.8" r="1.6"/><circle cx="248.38" cy="510.8" r="1.6"/><circle cx="250.65" cy="526.5" r="1.6"/><circle cx="255.2" cy="529.2" r="1.6"/><circle cx="259.75" cy="526.9" r="1.6"/><circle cx="264.3" cy="524.9" r="1.6"/><circle cx="252.92" cy="509.6" r="1.6"/><circle cx="257.47" cy="509.6" r="1.6"/><circle cx="259.75" cy="509.6" r="1.6"/><circle cx="248.38" cy="511.8" r="1.6"/><circle cx="250.65" cy="511.8" r="1.6"/><circle cx="255.2" cy="511.8" r="1.6"/><circle cx="259.75" cy="511.8" r="1.6"/><circle cx="262.02" cy="511.8" r="1.6"/><circle cx="264.3" cy="511.8" r="1.6"/><circle cx="246.1" cy="514" r="1.6"/><circle cx="248.38" cy="514" r="1.6"/><circle cx="250.65" cy="514" r="1.6"/><circle cx="252.92" cy="514" r="1.6"/><circle cx="255.2" cy="514" r="1.6"/><circle cx="257.47" cy="514" r="1.6"/><circle cx="259.75" cy="514" r="1.6"/><circle cx="262.02" cy="514" r="1.6"/><circle cx="264.3" cy="514" r="1.6"/><circle cx="244.51" cy="516.4" r="1.6"/><circle cx="246.1" cy="516.4" r="1.6"/><circle cx="250.65" cy="516.4" r="1.6"/><circle cx="255.2" cy="516.4" r="1.6"/><circle cx="259.75" cy="516.4" r="1.6"/><circle cx="264.3" cy="516.4" r="1.6"/><circle cx="265.89" cy="516.4" r="1.6"/><circle cx="246.1" cy="518.8" r="1.6"/><circle cx="248.38" cy="518.8" r="1.6"/><circle cx="250.65" cy="518.8" r="1.6"/><circle cx="252.92" cy="518.8" r="1.6"/><circle cx="255.2" cy="518.8" r="1.6"/><circle cx="257.47" cy="518.8" r="1.6"/><circle cx="259.75" cy="518.8" r="1.6"/><circle cx="262.02" cy="518.8" r="1.6"/><circle cx="264.3" cy="518.8" r="1.6"/><circle cx="244.28" cy="518.8" r="1.6"/><circle cx="266.12" cy="518.8" r="1.6"/><circle cx="244.51" cy="521.2" r="1.6"/><circle cx="246.1" cy="521.2" r="1.6"/><circle cx="250.65" cy="521.2" r="1.6"/><circle cx="255.2" cy="521.2" r="1.6"/><circle cx="259.75" cy="521.2" r="1.6"/><circle cx="264.3" cy="521.2" r="1.6"/><circle cx="265.89" cy="521.2" r="1.6"/><circle cx="246.1" cy="523.4" r="1.6"/><circle cx="248.38" cy="523.4" r="1.6"/><circle cx="250.65" cy="523.4" r="1.6"/><circle cx="252.92" cy="523.4" r="1.6"/><circle cx="255.2" cy="523.4" r="1.6"/><circle cx="257.47" cy="523.4" r="1.6"/><circle cx="259.75" cy="523.4" r="1.6"/><circle cx="262.02" cy="523.4" r="1.6"/><circle cx="264.3" cy="523.4" r="1.6"/><circle cx="248.38" cy="524.9" r="1.6"/><circle cx="252.92" cy="524.9" r="1.6"/><circle cx="257.47" cy="524.9" r="1.6"/><circle cx="262.02" cy="524.9" r="1.6"/><circle cx="291.5" cy="526.9" r="1.6"/><circle cx="286.04" cy="508.2" r="1.6"/><circle cx="291.5" cy="508.2" r="1.6"/><circle cx="296.96" cy="508.2" r="1.6"/><circle cx="284.68" cy="510.4" r="1.6"/><circle cx="289.23" cy="510.4" r="1.6"/><circle cx="293.77" cy="510.4" r="1.6"/><circle cx="298.32" cy="510.4" r="1.6"/><circle cx="282.4" cy="511.2" r="1.6"/><circle cx="300.6" cy="511.2" r="1.6"/><circle cx="281.04" cy="512.7" r="1.6"/><circle cx="286.95" cy="512.7" r="1.6"/><circle cx="291.5" cy="512.7" r="1.6"/><circle cx="296.05" cy="512.7" r="1.6"/><circle cx="301.96" cy="512.7" r="1.6"/><circle cx="280.81" cy="514.9" r="1.6"/><circle cx="284.68" cy="514.9" r="1.6"/><circle cx="289.23" cy="514.9" r="1.6"/><circle cx="293.77" cy="514.9" r="1.6"/><circle cx="298.32" cy="514.9" r="1.6"/><circle cx="302.19" cy="514.9" r="1.6"/><circle cx="282.4" cy="517" r="1.6"/><circle cx="284.68" cy="517" r="1.6"/><circle cx="286.95" cy="517" r="1.6"/><circle cx="289.23" cy="517" r="1.6"/><circle cx="291.5" cy="517" r="1.6"/><circle cx="293.77" cy="517" r="1.6"/><circle cx="296.05" cy="517" r="1.6"/><circle cx="298.32" cy="517" r="1.6"/><circle cx="300.6" cy="517" r="1.6"/><circle cx="280.81" cy="517" r="1.6"/><circle cx="302.19" cy="517" r="1.6"/><circle cx="282.4" cy="519.2" r="1.6"/><circle cx="284.68" cy="519.2" r="1.6"/><circle cx="286.95" cy="519.2" r="1.6"/><circle cx="289.23" cy="519.2" r="1.6"/><circle cx="291.5" cy="519.2" r="1.6"/><circle cx="293.77" cy="519.2" r="1.6"/><circle cx="296.05" cy="519.2" r="1.6"/><circle cx="298.32" cy="519.2" r="1.6"/><circle cx="300.6" cy="519.2" r="1.6"/><circle cx="280.81" cy="519.2" r="1.6"/><circle cx="302.19" cy="519.2" r="1.6"/><circle cx="282.4" cy="521.4" r="1.6"/><circle cx="284.68" cy="521.4" r="1.6"/><circle cx="286.95" cy="521.4" r="1.6"/><circle cx="289.23" cy="521.4" r="1.6"/><circle cx="291.5" cy="521.4" r="1.6"/><circle cx="293.77" cy="521.4" r="1.6"/><circle cx="296.05" cy="521.4" r="1.6"/><circle cx="298.32" cy="521.4" r="1.6"/><circle cx="300.6" cy="521.4" r="1.6"/><circle cx="281.04" cy="521.4" r="1.6"/><circle cx="301.96" cy="521.4" r="1.6"/><circle cx="282.4" cy="523.3" r="1.6"/><circle cx="284.68" cy="523.3" r="1.6"/><circle cx="286.95" cy="523.3" r="1.6"/><circle cx="289.23" cy="523.3" r="1.6"/><circle cx="291.5" cy="523.3" r="1.6"/><circle cx="293.77" cy="523.3" r="1.6"/><circle cx="296.05" cy="523.3" r="1.6"/><circle cx="298.32" cy="523.3" r="1.6"/><circle cx="300.6" cy="523.3" r="1.6"/><circle cx="323.25" cy="472" r="1.6"/><circle cx="327.8" cy="475" r="1.6"/><circle cx="332.35" cy="483.5" r="1.6"/><circle cx="323.25" cy="488" r="1.6"/><circle cx="327.8" cy="485.8" r="1.6"/><circle cx="332.35" cy="487" r="1.6"/><circle cx="327.8" cy="492.2" r="1.6"/><circle cx="327.8" cy="499" r="1.6"/><circle cx="364.1" cy="507.7" r="1.6"/><circle cx="355" cy="511.2" r="1.6"/><circle cx="373.2" cy="510.6" r="1.6"/><circle cx="359.55" cy="513.5" r="1.6"/><circle cx="368.65" cy="513.5" r="1.6"/><circle cx="364.1" cy="514.5" r="1.6"/><circle cx="355" cy="517.8" r="1.6"/><circle cx="359.55" cy="517.8" r="1.6"/><circle cx="364.1" cy="517.8" r="1.6"/><circle cx="368.65" cy="517.8" r="1.6"/><circle cx="373.2" cy="517.8" r="1.6"/><circle cx="351.81" cy="517.2" r="1.6"/><circle cx="376.38" cy="517.2" r="1.6"/><circle cx="355" cy="522" r="1.6"/><circle cx="364.1" cy="522" r="1.6"/><circle cx="373.2" cy="522" r="1.6"/><circle cx="359.55" cy="521" r="1.6"/><circle cx="368.65" cy="521" r="1.6"/><circle cx="359.55" cy="524.4" r="1.6"/><circle cx="368.65" cy="524.4" r="1.6"/><circle cx="364.1" cy="527.3" r="1.6"/><circle cx="395.85" cy="515.5" r="1.6"/><circle cx="400.4" cy="515.5" r="1.6"/><circle cx="404.95" cy="515.5" r="1.6"/><circle cx="400.4" cy="525.6" r="1.6"/><circle cx="432.15" cy="511.1" r="1.6"/><circle cx="436.7" cy="514" r="1.6"/><circle cx="432.15" cy="521.2" r="1.6"/><circle cx="436.7" cy="522.6" r="1.6"/><circle cx="441.25" cy="522" r="1.6"/><circle cx="445.8" cy="521.2" r="1.6"/><circle cx="473" cy="467.9" r="1.6"/><circle cx="477.55" cy="466.4" r="1.6"/><circle cx="473" cy="486" r="1.6"/><circle cx="473" cy="497.6" r="1.6"/><circle cx="474.82" cy="508.5" r="1.6"/><circle cx="468.45" cy="511.5" r="1.6"/><circle cx="473" cy="512.9" r="1.6"/><circle cx="477.55" cy="512" r="1.6"/><circle cx="482.1" cy="511.5" r="1.6"/><circle cx="473" cy="517.8" r="1.6"/><circle cx="477.55" cy="516.4" r="1.6"/></g>
<text x="263.9" y="323.1" font-size="13.7" font-weight="bold" text-anchor="middle">PERP</text>
<text x="-0.3" y="326.5" font-size="24" font-weight="bold">B</text>
<text x="15.2" y="438.4" font-size="12.3" font-weight="bold" text-anchor="middle" transform="rotate(-90 15.2 438.4)">VSN normalized log expression</text>
<text x="30.6" y="438.4" font-size="12.2" font-weight="bold" text-anchor="middle" transform="rotate(-90 30.6 438.4)">(217744_s_at)</text>
<text x="92" y="384" font-size="14">Kruskall-Wallis <tspan font-style="italic">P</tspan>&lt;.001</text>
<text x="269.2" y="601.5" font-size="12" font-weight="bold" text-anchor="middle">AML subtype</text>
<g stroke="#000" fill="none">
<line x1="46.8" y1="654.45" x2="46.8" y2="786.8" stroke-width="1.8"/>
<line x1="45.9" y1="785.9" x2="245.5" y2="785.9" stroke-width="1.8"/>
<line x1="42.6" y1="655.3" x2="46.8" y2="655.3" stroke-width="1.7"/>
<line x1="42.6" y1="698.83" x2="46.8" y2="698.83" stroke-width="1.7"/>
<line x1="42.6" y1="742.37" x2="46.8" y2="742.37" stroke-width="1.7"/>
<line x1="42.6" y1="785.9" x2="46.8" y2="785.9" stroke-width="1.7"/>
<line x1="96.5" y1="785.9" x2="96.5" y2="790.7" stroke-width="1.7"/>
<line x1="195.4" y1="785.9" x2="195.4" y2="790.7" stroke-width="1.7"/>
<line x1="63.3" y1="701.9" x2="129.7" y2="701.9" stroke-width="1.8"/>
<line x1="162.2" y1="747.4" x2="228.6" y2="747.4" stroke-width="1.8"/>
<line x1="96.5" y1="655.8" x2="200.7" y2="655.8" stroke-width="1.9"/>
<line x1="96.5" y1="651.4" x2="96.5" y2="660.2" stroke-width="1.9"/>
<line x1="200.7" y1="651.4" x2="200.7" y2="660.2" stroke-width="1.9"/>
</g>
<text x="42.1" y="658.5" font-size="8.9" font-weight="bold" text-anchor="end">1000</text>
<text x="42.1" y="702.03" font-size="8.9" font-weight="bold" text-anchor="end">100</text>
<text x="42.1" y="745.57" font-size="8.9" font-weight="bold" text-anchor="end">10</text>
<text x="42.1" y="789.1" font-size="8.9" font-weight="bold" text-anchor="end">1</text>
<g><circle cx="96.5" cy="664.8" r="2.8"/><circle cx="88.5" cy="679.2" r="2.8"/><circle cx="96.5" cy="681.2" r="2.8"/><circle cx="88.5" cy="693.1" r="2.8"/><circle cx="96.5" cy="696.9" r="2.8"/><circle cx="104.5" cy="696.5" r="2.8"/><circle cx="80.5" cy="701.5" r="2.8"/><circle cx="104.5" cy="702.3" r="2.8"/><circle cx="88.5" cy="707.1" r="2.8"/><circle cx="96.5" cy="707.1" r="2.8"/><circle cx="112.5" cy="710.8" r="2.8"/><circle cx="88.5" cy="713.7" r="2.8"/><circle cx="96.5" cy="718.1" r="2.8"/><circle cx="104.5" cy="717.7" r="2.8"/><circle cx="195.4" cy="723.8" r="2.8"/><circle cx="187.4" cy="732" r="2.8"/><circle cx="203.4" cy="735" r="2.8"/><circle cx="195.4" cy="737.5" r="2.8"/><circle cx="203.4" cy="739.5" r="2.8"/><circle cx="187.4" cy="743.3" r="2.8"/><circle cx="179.4" cy="747.5" r="2.8"/><circle cx="187.4" cy="749.3" r="2.8"/><circle cx="195.4" cy="747" r="2.8"/><circle cx="211.4" cy="748.8" r="2.8"/><circle cx="219.4" cy="747" r="2.8"/><circle cx="203.4" cy="752.5" r="2.8"/><circle cx="195.4" cy="754.5" r="2.8"/><circle cx="187.4" cy="763" r="2.8"/><circle cx="195.4" cy="767.5" r="2.8"/><circle cx="195.4" cy="779.3" r="2.8"/></g>
<text x="99.9" y="799.9" font-size="9.8" font-weight="bold" text-anchor="end" transform="rotate(-45 99.9 799.9)">t(8;16)</text>
<text x="198.8" y="799.9" font-size="9.8" font-weight="bold" text-anchor="end" transform="rotate(-45 198.8 799.9)">other</text>
<text x="32.2" y="639.7" font-size="12.65" font-weight="bold">GGA2 mRNA expression Taqman</text>
<text x="0.1" y="635.6" font-size="24" font-weight="bold">C</text>
<text x="14.7" y="720.6" font-size="10.4" font-weight="bold" text-anchor="middle" transform="rotate(-90 14.7 720.6)">RET</text>
<text x="84" y="761.4" font-size="11.2" fill="#1a1a1a"><tspan font-style="italic">P</tspan>&lt;.0001</text>
<g stroke="#000" fill="none">
<line x1="319.3" y1="654.65" x2="319.3" y2="787.2" stroke-width="1.8"/>
<line x1="318.4" y1="786.3" x2="518.2" y2="786.3" stroke-width="1.8"/>
<line x1="315.1" y1="655.5" x2="319.3" y2="655.5" stroke-width="1.7"/>
<line x1="315.1" y1="688.2" x2="319.3" y2="688.2" stroke-width="1.7"/>
<line x1="315.1" y1="720.9" x2="319.3" y2="720.9" stroke-width="1.7"/>
<line x1="315.1" y1="753.6" x2="319.3" y2="753.6" stroke-width="1.7"/>
<line x1="315.1" y1="786.3" x2="319.3" y2="786.3" stroke-width="1.7"/>
<line x1="369.5" y1="786.3" x2="369.5" y2="791.1" stroke-width="1.7"/>
<line x1="468.7" y1="786.3" x2="468.7" y2="791.1" stroke-width="1.7"/>
<line x1="336" y1="682.7" x2="403" y2="682.7" stroke-width="1.8"/>
<line x1="435.2" y1="743.1" x2="502.2" y2="743.1" stroke-width="1.8"/>
<line x1="369.5" y1="655.8" x2="473.6" y2="655.8" stroke-width="1.9"/>
<line x1="369.5" y1="651.4" x2="369.5" y2="660.2" stroke-width="1.9"/>
<line x1="473.6" y1="651.4" x2="473.6" y2="660.2" stroke-width="1.9"/>
</g>
<text x="314.6" y="658.7" font-size="8.9" font-weight="bold" text-anchor="end">10</text>
<text x="314.6" y="691.4" font-size="8.9" font-weight="bold" text-anchor="end">1</text>
<text x="314.6" y="724.1" font-size="8.9" font-weight="bold" text-anchor="end">0.1</text>
<text x="314.6" y="756.8" font-size="8.9" font-weight="bold" text-anchor="end">0.01</text>
<text x="314.6" y="789.5" font-size="8.9" font-weight="bold" text-anchor="end">0.001</text>
<g><circle cx="377.5" cy="664.8" r="2.8"/><circle cx="361.5" cy="669" r="2.8"/><circle cx="369.5" cy="670.4" r="2.8"/><circle cx="361.5" cy="679.6" r="2.8"/><circle cx="369.5" cy="679.6" r="2.8"/><circle cx="377.5" cy="679.6" r="2.8"/><circle cx="353.5" cy="682.7" r="2.8"/><circle cx="385.5" cy="682.3" r="2.8"/><circle cx="361.5" cy="686.3" r="2.8"/><circle cx="369.5" cy="688.3" r="2.8"/><circle cx="377.5" cy="685.8" r="2.8"/><circle cx="361.5" cy="690.8" r="2.8"/><circle cx="377.5" cy="695" r="2.8"/><circle cx="369.5" cy="697.5" r="2.8"/><circle cx="476.7" cy="714.6" r="2.8"/><circle cx="468.7" cy="721" r="2.8"/><circle cx="468.7" cy="729.8" r="2.8"/><circle cx="460.7" cy="733" r="2.8"/><circle cx="476.7" cy="736.3" r="2.8"/><circle cx="468.7" cy="738" r="2.8"/><circle cx="444.7" cy="742.2" r="2.8"/><circle cx="452.7" cy="743.4" r="2.8"/><circle cx="460.7" cy="745.8" r="2.8"/><circle cx="476.7" cy="744.3" r="2.8"/><circle cx="484.7" cy="743.1" r="2.8"/><circle cx="468.7" cy="749.5" r="2.8"/><circle cx="476.7" cy="754.5" r="2.8"/><circle cx="468.7" cy="758.6" r="2.8"/><circle cx="468.7" cy="770" r="2.8"/><circle cx="468.7" cy="778.7" r="2.8"/></g>
<text x="372.9" y="800.3" font-size="9.8" font-weight="bold" text-anchor="end" transform="rotate(-45 372.9 800.3)">t(8;16)</text>
<text x="472.1" y="800.3" font-size="9.8" font-weight="bold" text-anchor="end" transform="rotate(-45 472.1 800.3)">other</text>
<text x="302" y="639.7" font-size="12.65" font-weight="bold">PERP mRNA expression Taqman</text>
<text x="277.5" y="635.9" font-size="24" font-weight="bold">D</text>
<text x="280.2" y="720.9" font-size="10.4" font-weight="bold" text-anchor="middle" transform="rotate(-90 280.2 720.9)">RET</text>
<text x="348.6" y="764.3" font-size="11.2" fill="#1a1a1a"><tspan font-style="italic">P</tspan>&lt;.0001</text>
<g stroke="#000" fill="none">
<line x1="46.2" y1="866.65" x2="46.2" y2="999.4" stroke-width="1.8"/>
<line x1="42" y1="994.6" x2="239.45" y2="994.6" stroke-width="1.8"/>
<line x1="42" y1="867.5" x2="46.2" y2="867.5" stroke-width="1.7"/>
<line x1="42" y1="892.92" x2="46.2" y2="892.92" stroke-width="1.7"/>
<line x1="42" y1="918.34" x2="46.2" y2="918.34" stroke-width="1.7"/>
<line x1="42" y1="943.76" x2="46.2" y2="943.76" stroke-width="1.7"/>
<line x1="42" y1="969.18" x2="46.2" y2="969.18" stroke-width="1.7"/>
<line x1="67.58" y1="994.6" x2="67.58" y2="999.4" stroke-width="1.7"/>
<line x1="88.96" y1="994.6" x2="88.96" y2="999.4" stroke-width="1.7"/>
<line x1="110.33" y1="994.6" x2="110.33" y2="999.4" stroke-width="1.7"/>
<line x1="131.71" y1="994.6" x2="131.71" y2="999.4" stroke-width="1.7"/>
<line x1="153.09" y1="994.6" x2="153.09" y2="999.4" stroke-width="1.7"/>
<line x1="174.47" y1="994.6" x2="174.47" y2="999.4" stroke-width="1.7"/>
<line x1="195.84" y1="994.6" x2="195.84" y2="999.4" stroke-width="1.7"/>
<line x1="217.22" y1="994.6" x2="217.22" y2="999.4" stroke-width="1.7"/>
<line x1="238.6" y1="994.6" x2="238.6" y2="999.4" stroke-width="1.7"/>
</g>
<text x="41.8" y="870.8" font-size="9.2" font-weight="bold" text-anchor="end">12</text>
<text x="41.8" y="896.22" font-size="9.2" font-weight="bold" text-anchor="end">11</text>
<text x="41.8" y="921.64" font-size="9.2" font-weight="bold" text-anchor="end">10</text>
<text x="41.8" y="947.06" font-size="9.2" font-weight="bold" text-anchor="end">9</text>
<text x="41.8" y="972.48" font-size="9.2" font-weight="bold" text-anchor="end">8</text>
<text x="41.8" y="997.9" font-size="9.2" font-weight="bold" text-anchor="end">7</text>
<text x="46.2" y="1008.2" font-size="9.2" font-weight="bold" text-anchor="middle">2<tspan font-size="5.3" dy="-3.6">0</tspan></text>
<text x="67.58" y="1008.2" font-size="9.2" font-weight="bold" text-anchor="middle">2<tspan font-size="5.3" dy="-3.6">1</tspan></text>
<text x="88.96" y="1008.2" font-size="9.2" font-weight="bold" text-anchor="middle">2<tspan font-size="5.3" dy="-3.6">2</tspan></text>
<text x="110.33" y="1008.2" font-size="9.2" font-weight="bold" text-anchor="middle">2<tspan font-size="5.3" dy="-3.6">3</tspan></text>
<text x="131.71" y="1008.2" font-size="9.2" font-weight="bold" text-anchor="middle">2<tspan font-size="5.3" dy="-3.6">4</tspan></text>
<text x="153.09" y="1008.2" font-size="9.2" font-weight="bold" text-anchor="middle">2<tspan font-size="5.3" dy="-3.6">5</tspan></text>
<text x="174.47" y="1008.2" font-size="9.2" font-weight="bold" text-anchor="middle">2<tspan font-size="5.3" dy="-3.6">6</tspan></text>
<text x="195.84" y="1008.2" font-size="9.2" font-weight="bold" text-anchor="middle">2<tspan font-size="5.3" dy="-3.6">7</tspan></text>
<text x="217.22" y="1008.2" font-size="9.2" font-weight="bold" text-anchor="middle">2<tspan font-size="5.3" dy="-3.6">8</tspan></text>
<text x="238.6" y="1008.2" font-size="9.2" font-weight="bold" text-anchor="middle">2<tspan font-size="5.3" dy="-3.6">9</tspan></text>
<g><circle cx="58.2" cy="973.9" r="2.8"/><circle cx="77.6" cy="973.1" r="2.8"/><circle cx="83.6" cy="971.5" r="2.8"/><circle cx="89.3" cy="964.2" r="2.8"/><circle cx="95.3" cy="968.2" r="2.8"/><circle cx="98.6" cy="969" r="2.8"/><circle cx="101.4" cy="968.2" r="2.8"/><circle cx="98.6" cy="983.2" r="2.8"/><circle cx="106.6" cy="981.2" r="2.8"/><circle cx="107.8" cy="967.8" r="2.8"/><circle cx="109.5" cy="961.8" r="2.8"/><circle cx="111.1" cy="967.4" r="2.8"/><circle cx="113.9" cy="965" r="2.8"/><circle cx="115.1" cy="969" r="2.8"/><circle cx="113.9" cy="975.9" r="2.8"/><circle cx="116.7" cy="961" r="2.8"/><circle cx="122" cy="956.9" r="2.8"/><circle cx="124.8" cy="980" r="2.8"/><circle cx="127.6" cy="963" r="2.8"/><circle cx="129.7" cy="951.7" r="2.8"/><circle cx="134.1" cy="963.8" r="2.8"/><circle cx="137.7" cy="949.7" r="2.8"/><circle cx="138.1" cy="942.8" r="2.8"/><circle cx="139.4" cy="941.6" r="2.8"/><circle cx="147.8" cy="942.8" r="2.8"/><circle cx="156.3" cy="933.5" r="2.8"/><circle cx="157.1" cy="942" r="2.8"/><circle cx="158.7" cy="944.8" r="2.8"/><circle cx="169.2" cy="918.6" r="2.8"/><circle cx="174.5" cy="916.5" r="2.8"/><circle cx="181.4" cy="921.4" r="2.8"/><circle cx="183.8" cy="914.5" r="2.8"/><circle cx="196.7" cy="898.4" r="2.8"/><circle cx="216.5" cy="899.6" r="2.8"/></g>
<text x="141.8" y="852.4" font-size="12" font-weight="bold" text-anchor="middle">GGA2</text>
<text x="-0.5" y="848.9" font-size="24" font-weight="bold">E</text>
<text x="12.5" y="933.7" font-size="10.55" font-weight="bold" text-anchor="middle" transform="rotate(-90 12.5 933.7)">VSN normalized log expression</text>
<text x="25.8" y="931" font-size="10.2" font-weight="bold" text-anchor="middle" transform="rotate(-90 25.8 931)">(208913_at)</text>
<text x="62.3" y="893.9" font-size="10.85">Spearman r = 0.88</text>
<text x="141.8" y="1022.3" font-size="10.5" font-weight="bold" text-anchor="middle">RET</text>
<g stroke="#000" fill="none">
<line x1="320.8" y1="866.65" x2="320.8" y2="1000" stroke-width="1.8"/>
<line x1="316.6" y1="995.2" x2="513.55" y2="995.2" stroke-width="1.8"/>
<line x1="316.6" y1="867.5" x2="320.8" y2="867.5" stroke-width="1.7"/>
<line x1="316.6" y1="899.42" x2="320.8" y2="899.42" stroke-width="1.7"/>
<line x1="316.6" y1="931.35" x2="320.8" y2="931.35" stroke-width="1.7"/>
<line x1="316.6" y1="963.28" x2="320.8" y2="963.28" stroke-width="1.7"/>
<line x1="339.99" y1="995.2" x2="339.99" y2="1000" stroke-width="1.7"/>
<line x1="359.18" y1="995.2" x2="359.18" y2="1000" stroke-width="1.7"/>
<line x1="378.37" y1="995.2" x2="378.37" y2="1000" stroke-width="1.7"/>
<line x1="397.56" y1="995.2" x2="397.56" y2="1000" stroke-width="1.7"/>
<line x1="416.75" y1="995.2" x2="416.75" y2="1000" stroke-width="1.7"/>
<line x1="435.94" y1="995.2" x2="435.94" y2="1000" stroke-width="1.7"/>
<line x1="455.13" y1="995.2" x2="455.13" y2="1000" stroke-width="1.7"/>
<line x1="474.32" y1="995.2" x2="474.32" y2="1000" stroke-width="1.7"/>
<line x1="493.51" y1="995.2" x2="493.51" y2="1000" stroke-width="1.7"/>
<line x1="512.7" y1="995.2" x2="512.7" y2="1000" stroke-width="1.7"/>
</g>
<text x="316.4" y="870.8" font-size="9.2" font-weight="bold" text-anchor="end">9</text>
<text x="316.4" y="902.72" font-size="9.2" font-weight="bold" text-anchor="end">8</text>
<text x="316.4" y="934.65" font-size="9.2" font-weight="bold" text-anchor="end">7</text>
<text x="316.4" y="966.58" font-size="9.2" font-weight="bold" text-anchor="end">6</text>
<text x="316.4" y="998.5" font-size="9.2" font-weight="bold" text-anchor="end">5</text>
<text x="320.2" y="1008.8" font-size="9.2" font-weight="bold" text-anchor="middle">2<tspan font-size="5.3" dy="-3.6">-7</tspan></text>
<text x="339.39" y="1008.8" font-size="9.2" font-weight="bold" text-anchor="middle">2<tspan font-size="5.3" dy="-3.6">-6</tspan></text>
<text x="358.58" y="1008.8" font-size="9.2" font-weight="bold" text-anchor="middle">2<tspan font-size="5.3" dy="-3.6">-5</tspan></text>
<text x="377.77" y="1008.8" font-size="9.2" font-weight="bold" text-anchor="middle">2<tspan font-size="5.3" dy="-3.6">-4</tspan></text>
<text x="396.96" y="1008.8" font-size="9.2" font-weight="bold" text-anchor="middle">2<tspan font-size="5.3" dy="-3.6">-3</tspan></text>
<text x="416.15" y="1008.8" font-size="9.2" font-weight="bold" text-anchor="middle">2<tspan font-size="5.3" dy="-3.6">-2</tspan></text>
<text x="435.34" y="1008.8" font-size="9.2" font-weight="bold" text-anchor="middle">2<tspan font-size="5.3" dy="-3.6">-1</tspan></text>
<text x="454.53" y="1008.8" font-size="9.2" font-weight="bold" text-anchor="middle">2<tspan font-size="5.3" dy="-3.6">0</tspan></text>
<text x="473.72" y="1008.8" font-size="9.2" font-weight="bold" text-anchor="middle">2<tspan font-size="5.3" dy="-3.6">1</tspan></text>
<text x="492.91" y="1008.8" font-size="9.2" font-weight="bold" text-anchor="middle">2<tspan font-size="5.3" dy="-3.6">2</tspan></text>
<text x="512.1" y="1008.8" font-size="9.2" font-weight="bold" text-anchor="middle">2<tspan font-size="5.3" dy="-3.6">3</tspan></text>
<g><circle cx="331" cy="935.5" r="2.8"/><circle cx="343.1" cy="953.7" r="2.8"/><circle cx="345.1" cy="946.8" r="2.8"/><circle cx="347.6" cy="940" r="2.8"/><circle cx="349.2" cy="942.8" r="2.8"/><circle cx="357.7" cy="946" r="2.8"/><circle cx="361.3" cy="942" r="2.8"/><circle cx="367.8" cy="946.8" r="2.8"/><circle cx="373.8" cy="947.2" r="2.8"/><circle cx="390" cy="923.8" r="2.8"/><circle cx="390" cy="942" r="2.8"/><circle cx="403.7" cy="944" r="2.8"/><circle cx="433.2" cy="912.5" r="2.8"/><circle cx="450.1" cy="924.6" r="2.8"/><circle cx="455.4" cy="915.7" r="2.8"/><circle cx="464.3" cy="898.4" r="2.8"/><circle cx="466.3" cy="913.7" r="2.8"/><circle cx="468.7" cy="893.1" r="2.8"/><circle cx="471.6" cy="909.7" r="2.8"/><circle cx="471.6" cy="918.6" r="2.8"/><circle cx="492.6" cy="911.7" r="2.8"/><circle cx="499.8" cy="901.6" r="2.8"/></g>
<text x="416.4" y="852.4" font-size="12" font-weight="bold" text-anchor="middle">PERP ct&lt;32</text>
<text x="278" y="849" font-size="24" font-weight="bold">F</text>
<text x="292.3" y="933.8" font-size="10.55" font-weight="bold" text-anchor="middle" transform="rotate(-90 292.3 933.8)">VSN normalized log expression</text>
<text x="305.5" y="931" font-size="10.2" font-weight="bold" text-anchor="middle" transform="rotate(-90 305.5 931)">(217744_s_at)</text>
<text x="337" y="893.9" font-size="10.85">Spearman r = 0.79</text>
<text x="416.8" y="1022.7" font-size="10.5" font-weight="bold" text-anchor="middle">RET</text>
</g>
</svg>
</body>
</html>
